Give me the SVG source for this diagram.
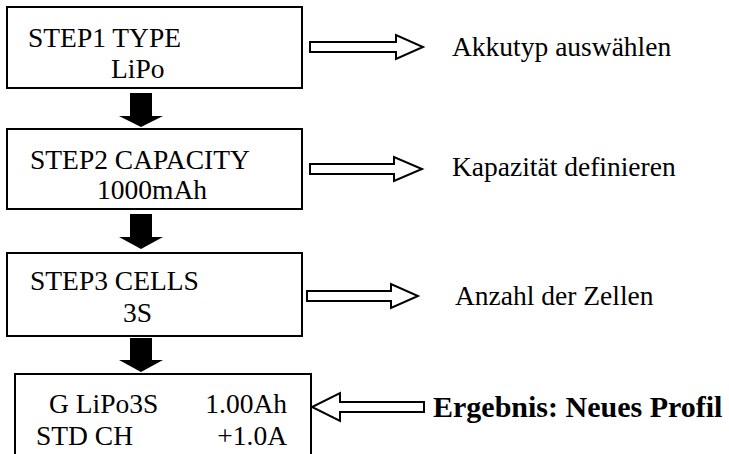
<svg xmlns="http://www.w3.org/2000/svg" width="729" height="454" viewBox="0 0 729 454">
<style>
.box{fill:#fff;stroke:#000;stroke-width:2}
.t{font-family:"Liberation Serif","Times New Roman",serif;font-size:27.5px;fill:#000}
.b{font-weight:bold;font-size:30px}
.down{fill:#000;stroke:none}
.hollow{fill:#fff;stroke:#000;stroke-width:2;stroke-linejoin:miter}
</style>
<rect width="729" height="454" fill="#fff"/>
<g id="step1">
<rect class="box" x="7" y="7" width="295" height="81"/>
<text class="t" x="28" y="47">STEP1 TYPE</text>
<text class="t" x="111" y="78">LiPo</text>
</g>
<g id="step2">
<rect class="box" x="7" y="129" width="295" height="80"/>
<text class="t" x="30" y="169">STEP2 CAPACITY</text>
<text class="t" x="97" y="199">1000mAh</text>
</g>
<g id="step3">
<rect class="box" x="7" y="253" width="295" height="83"/>
<text class="t" x="30" y="290">STEP3 CELLS</text>
<text class="t" x="123" y="322">3S</text>
</g>
<g id="result">
<rect class="box" x="15" y="374" width="296" height="90"/>
<text class="t" x="49" y="413">G LiPo3S</text>
<text class="t" x="287" y="413" text-anchor="end">1.00Ah</text>
<text class="t" x="36" y="445">STD CH</text>
<text class="t" x="287" y="445" text-anchor="end">+1.0A</text>
</g>
<g id="label1"><text class="t" x="452" y="56">Akkutyp auswählen</text></g>
<g id="label2"><text class="t" x="452" y="176">Kapazität definieren</text></g>
<g id="label3"><text class="t" x="455" y="305">Anzahl der Zellen</text></g>
<g id="label4"><text class="t b" x="433" y="417">Ergebnis: Neues Profil</text></g>
<g id="connectors">
<path class="down" d="M130,93 H152 V116 H163 L141,127 L119,116 H130 Z"/>
<path class="down" d="M130,214 H152 V237 H163 L141,249 L119,237 H130 Z"/>
<path class="down" d="M130,338 H152 V360 H163 L141,372 L119,360 H130 Z"/>
<path class="hollow" d="M310,42 H396 V35 L423,47 L396,59 V52 H310 Z"/>
<path class="hollow" d="M310,164 H394 V157 L422,169 L394,181 V174 H310 Z"/>
<path class="hollow" d="M307,291 H391 V284 L418,296 L391,308 V301 H307 Z"/>
<path class="hollow" d="M424,402 H340 V393 L312,407 L340,421 V412 H424 Z"/>
</g>
</svg>
